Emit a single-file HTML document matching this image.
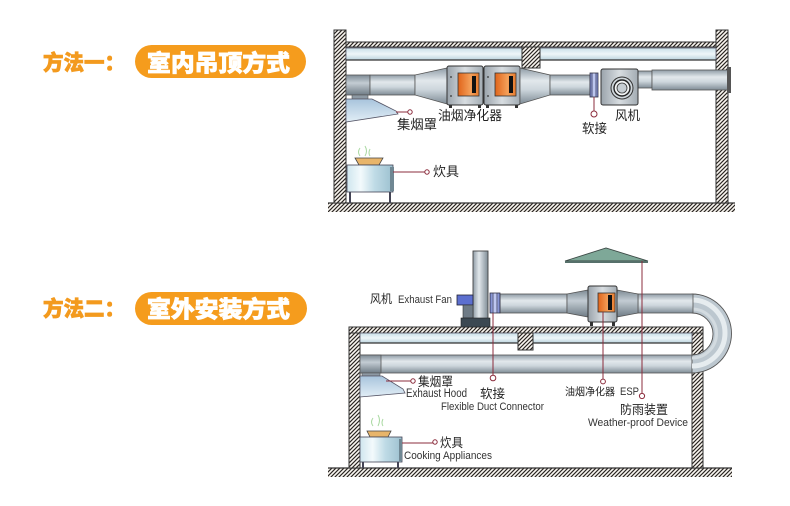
<!DOCTYPE html>
<html><head><meta charset="utf-8"><style>
html,body{margin:0;padding:0;background:#fff;}
svg{display:block;}
.cn{font-family:"Liberation Sans","Noto Sans CJK SC",sans-serif;fill:#222;}
.en{font-family:"Liberation Sans",sans-serif;fill:#333;}
.tt{font-family:"Liberation Sans","Noto Sans CJK SC",sans-serif;font-weight:900;}
</style></head><body>
<svg width="790" height="506" viewBox="0 0 790 506" xmlns="http://www.w3.org/2000/svg">
<defs>
<pattern id="h" width="4" height="4" patternUnits="userSpaceOnUse"><rect width="4" height="4" fill="#fbf8f2"/><path d="M-1,1 l2,-2 M0,4 l4,-4 M3,5 l2,-2" stroke="#2a2522" stroke-width="1.15"/></pattern>
<linearGradient id="dg" x1="0" y1="0" x2="0" y2="1"><stop offset="0" stop-color="#8f9ca6"/><stop offset="0.35" stop-color="#e2e8ec"/><stop offset="0.6" stop-color="#cdd6dc"/><stop offset="1" stop-color="#7f8c96"/></linearGradient>
<linearGradient id="dd" x1="0" y1="0" x2="0" y2="1"><stop offset="0" stop-color="#7d8a94"/><stop offset="0.4" stop-color="#c3ccd3"/><stop offset="1" stop-color="#6f7c86"/></linearGradient>
<linearGradient id="sg" x1="0" y1="0" x2="1" y2="0"><stop offset="0" stop-color="#8f9ca6"/><stop offset="0.4" stop-color="#e2e8ec"/><stop offset="1" stop-color="#7f8c96"/></linearGradient>
<linearGradient id="cp" x1="0" y1="0" x2="0" y2="1"><stop offset="0" stop-color="#c9dfe8"/><stop offset="0.5" stop-color="#eef6f9"/><stop offset="1" stop-color="#bcd4de"/></linearGradient>
<linearGradient id="ow" x1="0" y1="0" x2="1" y2="0"><stop offset="0" stop-color="#e0641a"/><stop offset="0.6" stop-color="#f4a05a"/><stop offset="1" stop-color="#e87a2c"/></linearGradient>
<linearGradient id="bx" x1="0" y1="0" x2="1" y2="0"><stop offset="0" stop-color="#9aa3ab"/><stop offset="0.5" stop-color="#d8dde1"/><stop offset="1" stop-color="#a3acb3"/></linearGradient>
<linearGradient id="hd" x1="0" y1="0" x2="0" y2="1"><stop offset="0" stop-color="#a8c4dc"/><stop offset="1" stop-color="#e2eef6"/></linearGradient>
<linearGradient id="st" x1="0" y1="0" x2="1" y2="0"><stop offset="0" stop-color="#cfe6ee"/><stop offset="0.3" stop-color="#f3fafc"/><stop offset="0.6" stop-color="#bfdbe6"/><stop offset="1" stop-color="#9cc0cf"/></linearGradient>
<linearGradient id="fx" x1="0" y1="0" x2="1" y2="0"><stop offset="0" stop-color="#6c7cc8"/><stop offset="0.5" stop-color="#c8d0f4"/><stop offset="1" stop-color="#6c7cc8"/></linearGradient>
</defs>

<!-- ===== Titles ===== -->
<text class="tt" x="43" y="70" font-size="21" fill="#f39a1e" stroke="#f39a1e" stroke-width="0.7" textLength="82" lengthAdjust="spacingAndGlyphs">方法一：</text>
<rect x="135" y="45" width="171" height="33" rx="16.5" fill="#f59c1d"/>
<text class="tt" x="147" y="71" font-size="23" fill="#fff" stroke="#fff" stroke-width="0.7" textLength="143" lengthAdjust="spacingAndGlyphs">室内吊顶方式</text>

<text class="tt" x="43" y="316" font-size="21" fill="#f39a1e" stroke="#f39a1e" stroke-width="0.7" textLength="82" lengthAdjust="spacingAndGlyphs">方法二：</text>
<rect x="135" y="292" width="172" height="33" rx="16.5" fill="#f59c1d"/>
<text class="tt" x="147" y="317" font-size="23" fill="#fff" stroke="#fff" stroke-width="0.7" textLength="143" lengthAdjust="spacingAndGlyphs">室外安装方式</text>

<!-- ===== Top diagram ===== -->
<rect x="328" y="203" width="407" height="9" fill="url(#h)"/>
<line x1="328" y1="203" x2="735" y2="203" stroke="#333" stroke-width="1.2"/>
<rect x="334" y="30" width="12" height="173" fill="url(#h)" stroke="#333" stroke-width="1"/>
<rect x="716" y="30" width="12" height="173" fill="url(#h)" stroke="#333" stroke-width="1"/>
<rect x="346" y="42" width="370" height="5" fill="url(#h)" stroke="#333" stroke-width="1"/>
<rect x="346" y="48" width="176" height="12" fill="url(#cp)" stroke="#556" stroke-width="0.8"/>
<rect x="540" y="48" width="176" height="12" fill="url(#cp)" stroke="#556" stroke-width="0.8"/>
<line x1="346" y1="60" x2="522" y2="60" stroke="#333" stroke-width="1.3"/>
<line x1="540" y1="60" x2="716" y2="60" stroke="#333" stroke-width="1.3"/>
<rect x="522" y="47" width="18" height="21" fill="url(#h)" stroke="#333" stroke-width="1"/>

<!-- duct -->
<rect x="346" y="75" width="24" height="20" fill="url(#dd)" stroke="#555" stroke-width="0.8"/>
<rect x="370" y="75" width="45" height="20" fill="url(#dg)" stroke="#555" stroke-width="0.8"/>
<polygon points="415,75 447,68 447,104 415,95" fill="url(#dg)" stroke="#555" stroke-width="0.8"/>
<rect x="447" y="66" width="36" height="39" rx="2" fill="url(#bx)" stroke="#333" stroke-width="1"/>
<rect x="458" y="73" width="21" height="23" fill="url(#ow)" stroke="#333" stroke-width="0.8"/>
<rect x="472" y="76" width="4" height="17" fill="#111"/>
<rect x="449" y="105" width="3" height="3" fill="#333"/><rect x="478" y="105" width="3" height="3" fill="#333"/>
<circle cx="451" cy="77" r="0.9" fill="#333"/><circle cx="451" cy="96" r="0.9" fill="#333"/>
<rect x="484" y="66" width="36" height="39" rx="2" fill="url(#bx)" stroke="#333" stroke-width="1"/>
<rect x="495" y="73" width="21" height="23" fill="url(#ow)" stroke="#333" stroke-width="0.8"/>
<rect x="509" y="76" width="4" height="17" fill="#111"/>
<rect x="486" y="105" width="3" height="3" fill="#333"/><rect x="515" y="105" width="3" height="3" fill="#333"/>
<circle cx="488" cy="77" r="0.9" fill="#333"/><circle cx="488" cy="96" r="0.9" fill="#333"/>
<polygon points="520,68 550,75 550,95 520,104" fill="url(#dg)" stroke="#555" stroke-width="0.8"/>
<rect x="550" y="75" width="40" height="20" fill="url(#dg)" stroke="#555" stroke-width="0.8"/>
<rect x="590" y="73" width="8" height="24" fill="url(#fx)" stroke="#334" stroke-width="0.8"/>
<line x1="592" y1="73" x2="592" y2="97" stroke="#334" stroke-width="0.6"/>
<line x1="596" y1="73" x2="596" y2="97" stroke="#334" stroke-width="0.6"/>
<rect x="638" y="71" width="14" height="17" fill="url(#dg)" stroke="#555" stroke-width="0.8"/>
<rect x="652" y="70" width="76" height="20" fill="url(#dg)" stroke="#555" stroke-width="0.8"/>
<rect x="727" y="67" width="4" height="26" fill="#555"/>
<rect x="601" y="69" width="37" height="36" rx="2" fill="url(#bx)" stroke="#333" stroke-width="1"/>
<circle cx="622" cy="88" r="11" fill="#cfd6db" stroke="#333" stroke-width="1"/>
<circle cx="622" cy="88" r="8" fill="#f2f4f5" stroke="#222" stroke-width="1.4"/>
<circle cx="622" cy="88" r="5" fill="#c7ced3" stroke="#333" stroke-width="0.8"/>
<rect x="352" y="95" width="16" height="4" fill="#8d99a3" stroke="#555" stroke-width="0.6"/>
<polygon points="346,99 372,99 396,111 398,114 346,122" fill="url(#hd)" stroke="#556" stroke-width="0.8"/>
<line x1="396" y1="112" x2="408" y2="112" stroke="#8b2c3c" stroke-width="1"/>
<circle cx="410" cy="112" r="2.2" fill="#fff" stroke="#8b2c3c" stroke-width="1"/>
<path d="M360,148 q-3,4 0,8 M365,146 q3,5 0,10 M370,149 q-2,4 0,7" stroke="#a8d8a0" stroke-width="1" fill="none"/>
<path d="M355,158 L383,158 L379,165 L359,165 Z" fill="#e8b56a" stroke="#444" stroke-width="0.8"/>
<rect x="347" y="165" width="46" height="27" fill="url(#st)" stroke="#445" stroke-width="0.8"/>
<rect x="390" y="167" width="4" height="24" fill="#6f8793"/>
<rect x="349" y="192" width="2" height="11" fill="#445"/><rect x="389" y="192" width="2" height="11" fill="#445"/>
<line x1="393" y1="172" x2="425" y2="172" stroke="#8b2c3c" stroke-width="1"/>
<circle cx="427" cy="172" r="2.2" fill="#fff" stroke="#8b2c3c" stroke-width="1"/>
<line x1="594" y1="97" x2="594" y2="111" stroke="#8b2c3c" stroke-width="1"/>
<circle cx="594" cy="114" r="3" fill="#fff" stroke="#8b2c3c" stroke-width="1"/>

<text class="cn" x="397" y="129" font-size="13" textLength="40" lengthAdjust="spacingAndGlyphs">集烟罩</text>
<text class="cn" x="438" y="120" font-size="13" textLength="64" lengthAdjust="spacingAndGlyphs">油烟净化器</text>
<text class="cn" x="582" y="133" font-size="13" textLength="25" lengthAdjust="spacingAndGlyphs">软接</text>
<text class="cn" x="615" y="120" font-size="13" textLength="25" lengthAdjust="spacingAndGlyphs">风机</text>
<text class="cn" x="433" y="176" font-size="13" textLength="26" lengthAdjust="spacingAndGlyphs">炊具</text>

<!-- ===== Bottom diagram ===== -->
<rect x="328" y="468" width="404" height="9" fill="url(#h)"/>
<line x1="328" y1="468" x2="732" y2="468" stroke="#333" stroke-width="1.2"/>
<rect x="349" y="327" width="11" height="141" fill="url(#h)" stroke="#333" stroke-width="1"/>
<rect x="692" y="327" width="11" height="141" fill="url(#h)" stroke="#333" stroke-width="1"/>
<rect x="349" y="327" width="354" height="6" fill="url(#h)" stroke="#333" stroke-width="1"/>
<rect x="360" y="333" width="158" height="10" fill="url(#cp)" stroke="#556" stroke-width="0.8"/>
<rect x="533" y="333" width="159" height="10" fill="url(#cp)" stroke="#556" stroke-width="0.8"/>
<line x1="360" y1="343" x2="518" y2="343" stroke="#333" stroke-width="1.3"/>
<line x1="533" y1="343" x2="692" y2="343" stroke="#333" stroke-width="1.3"/>
<rect x="518" y="333" width="15" height="17" fill="url(#h)" stroke="#333" stroke-width="1"/>

<rect x="360" y="355" width="333" height="18" fill="url(#dg)" stroke="#555" stroke-width="0.8"/>
<rect x="360" y="355" width="21" height="18" fill="url(#dd)" stroke="#555" stroke-width="0.8"/>
<path d="M692,294 A39.5,39.5 0 0 1 692,373 L692,355 A21,21 0 0 0 692,313 Z" fill="#bcc7cf" stroke="#555" stroke-width="0.9"/>
<path d="M692,300 A33,33 0 0 1 692,366" fill="none" stroke="#e6ecef" stroke-width="5"/>
<path d="M692,309 A24.5,24.5 0 0 1 692,358" fill="none" stroke="#d3dbe0" stroke-width="3"/>
<rect x="500" y="294" width="67" height="19" fill="url(#dg)" stroke="#555" stroke-width="0.8"/>
<rect x="638" y="294" width="55" height="19" fill="url(#dg)" stroke="#555" stroke-width="0.8"/>
<polygon points="567,294 588,290 588,317 567,313" fill="url(#dd)" stroke="#555" stroke-width="0.8"/>
<polygon points="617,290 638,294 638,313 617,317" fill="url(#dd)" stroke="#555" stroke-width="0.8"/>
<rect x="588" y="286" width="29" height="36" rx="2" fill="url(#bx)" stroke="#333" stroke-width="1"/>
<rect x="598" y="293" width="17" height="19" fill="url(#ow)" stroke="#333" stroke-width="0.8"/>
<rect x="608" y="295" width="4" height="15" fill="#111"/>
<rect x="590" y="322" width="3" height="4" fill="#333"/><rect x="612" y="322" width="3" height="4" fill="#333"/>
<rect x="490" y="293" width="10" height="20" fill="url(#fx)" stroke="#334" stroke-width="0.8"/>
<line x1="493" y1="293" x2="493" y2="313" stroke="#334" stroke-width="0.6"/>
<line x1="497" y1="293" x2="497" y2="313" stroke="#334" stroke-width="0.6"/>
<rect x="473" y="251" width="15" height="70" fill="url(#sg)" stroke="#444" stroke-width="0.9"/>
<rect x="457" y="295" width="16" height="10" fill="#5c6fcf" stroke="#223" stroke-width="0.8"/>
<rect x="463" y="305" width="10" height="13" fill="#6f7b86" stroke="#333" stroke-width="0.6"/>
<rect x="461" y="318" width="29" height="9" fill="#3b4852" stroke="#222" stroke-width="0.6"/>
<polygon points="565,261 606,248 648,261" fill="#7ea898" stroke="#3d4a46" stroke-width="0.9"/>
<rect x="565" y="261" width="83" height="2" fill="#56706a"/>

<rect x="362" y="373" width="18" height="3" fill="#8d99a3" stroke="#555" stroke-width="0.6"/>
<polygon points="360,376 382,376 403,389 405,393 360,397" fill="url(#hd)" stroke="#556" stroke-width="0.8"/>
<line x1="386" y1="381" x2="411" y2="381" stroke="#8b2c3c" stroke-width="1"/>
<circle cx="413" cy="381" r="2.2" fill="#fff" stroke="#8b2c3c" stroke-width="1"/>
<path d="M373,418 q-3,4 0,8 M378,415 q3,5 0,11 M383,419 q-2,4 0,7" stroke="#a8d8a0" stroke-width="1" fill="none"/>
<path d="M367,431 L391,431 L388,437 L370,437 Z" fill="#e8b56a" stroke="#444" stroke-width="0.8"/>
<rect x="360" y="437" width="42" height="25" fill="url(#st)" stroke="#445" stroke-width="0.8"/>
<rect x="399" y="439" width="3" height="22" fill="#6f8793"/>
<rect x="362" y="462" width="2" height="6" fill="#445"/><rect x="397" y="462" width="2" height="6" fill="#445"/>
<line x1="402" y1="443" x2="433" y2="443" stroke="#8b2c3c" stroke-width="1"/>
<circle cx="435" cy="442" r="2.2" fill="#fff" stroke="#8b2c3c" stroke-width="1"/>

<line x1="493" y1="313" x2="493" y2="375" stroke="#8b2c3c" stroke-width="1"/>
<circle cx="493" cy="378" r="2.8" fill="#fff" stroke="#8b2c3c" stroke-width="1"/>
<line x1="603" y1="312" x2="603" y2="379" stroke="#8b2c3c" stroke-width="1"/>
<circle cx="603" cy="381.5" r="2.4" fill="#fff" stroke="#8b2c3c" stroke-width="1"/>
<line x1="642" y1="261" x2="642" y2="393" stroke="#8b2c3c" stroke-width="1"/>
<circle cx="642" cy="396" r="2.6" fill="#fff" stroke="#8b2c3c" stroke-width="1"/>

<text class="cn" x="370" y="303" font-size="12" textLength="22" lengthAdjust="spacingAndGlyphs">风机</text>
<text class="en" x="398" y="303" font-size="11" textLength="54" lengthAdjust="spacingAndGlyphs">Exhaust Fan</text>
<text class="cn" x="418" y="386" font-size="12.5" textLength="35" lengthAdjust="spacingAndGlyphs">集烟罩</text>
<text class="en" x="406" y="397" font-size="11.5" textLength="61" lengthAdjust="spacingAndGlyphs">Exhaust Hood</text>
<text class="cn" x="480" y="398" font-size="12.5" textLength="25" lengthAdjust="spacingAndGlyphs">软接</text>
<text class="en" x="441" y="410" font-size="11" textLength="103" lengthAdjust="spacingAndGlyphs">Flexible Duct Connector</text>
<text class="cn" x="565" y="395" font-size="10.5" textLength="50" lengthAdjust="spacingAndGlyphs">油烟净化器</text>
<text class="en" x="620" y="395" font-size="11" textLength="19" lengthAdjust="spacingAndGlyphs">ESP</text>
<text class="cn" x="620" y="414" font-size="12.5" textLength="48" lengthAdjust="spacingAndGlyphs">防雨装置</text>
<text class="en" x="588" y="426" font-size="11" textLength="100" lengthAdjust="spacingAndGlyphs">Weather-proof Device</text>
<text class="cn" x="440" y="447" font-size="12.5" textLength="23" lengthAdjust="spacingAndGlyphs">炊具</text>
<text class="en" x="404" y="459" font-size="11" textLength="88" lengthAdjust="spacingAndGlyphs">Cooking Appliances</text>
</svg>
</body></html>
